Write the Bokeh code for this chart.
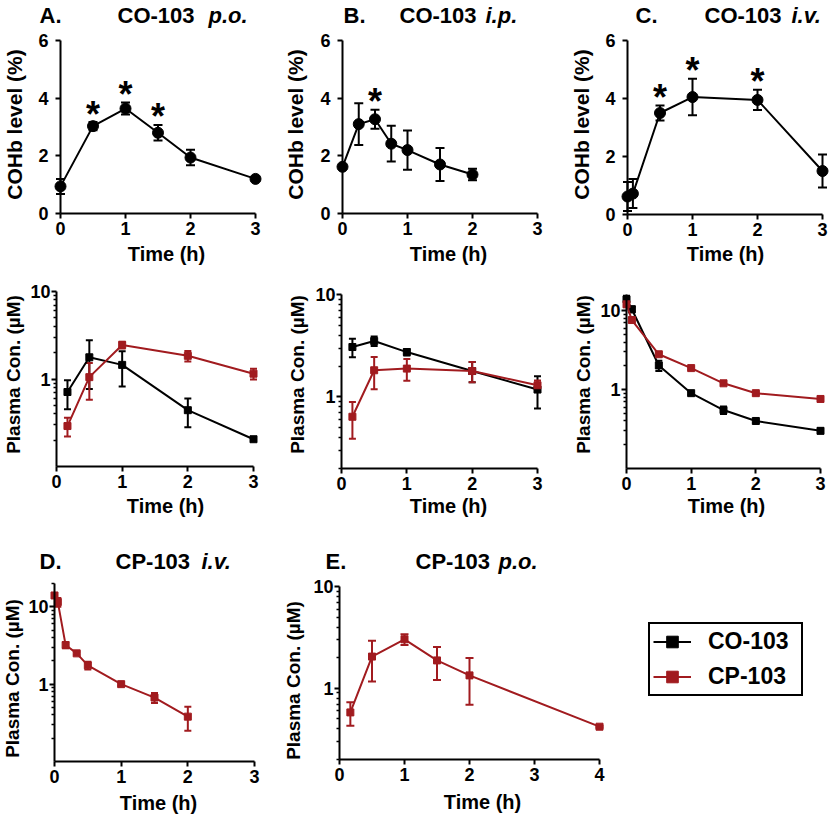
import numpy as np
from bokeh.plotting import figure
from bokeh.layouts import column, row
from bokeh.models import (Range1d, FixedTicker, CustomJSTickFormatter, Label,
                          Whisker, TeeHead, ColumnDataSource, Legend, LegendItem)
from bokeh.core.properties import value
from bokeh.embed import file_html
from bokeh.resources import INLINE

FONT = "Liberation Sans"
BLACK = "#000000"
RED = "#a11b1f"

# ---------------- data ----------------
# Row 1: COHb level (%) after CO-103
cohb_po_t = [0, 0.5, 1, 1.5, 2, 3]
cohb_po_mean = [0.94, 3.03, 3.64, 2.80, 1.94, 1.20]
cohb_po_sd = [0.26, 0.14, 0.21, 0.27, 0.27, 0.05]
cohb_po_sig = [0, 1, 1, 1, 0, 0]

cohb_ip_t = [0, 0.25, 0.5, 0.75, 1, 1.5, 2]
cohb_ip_mean = [1.62, 3.10, 3.27, 2.42, 2.20, 1.70, 1.35]
cohb_ip_sd = [0.0, 0.72, 0.33, 0.62, 0.68, 0.57, 0.20]
cohb_ip_sig = [0, 0, 1, 0, 0, 0, 0]

cohb_iv_t = [0, 0.083, 0.5, 1, 2, 3]
cohb_iv_mean = [0.62, 0.72, 3.50, 4.05, 3.95, 1.50]
cohb_iv_sd = [0.50, 0.50, 0.26, 0.63, 0.35, 0.57]
cohb_iv_sig = [0, 0, 1, 1, 1, 0]

# Row 2: plasma concentration (uM), CO-103 vs CP-103
po_t = [0.167, 0.5, 1, 2, 3]
po_co_mean = [0.71, 1.77, 1.45, 0.44, 0.205]
po_co_sd = [0.26, 1.00, 0.63, 0.16, 0.005]
po_cp_mean = [0.29, 1.05, 2.45, 1.84, 1.15]
po_cp_sd = [0.07, 0.47, 0.22, 0.25, 0.16]

ip_t = [0.167, 0.5, 1, 2, 3]
ip_co_mean = [3.07, 3.51, 2.74, 1.79, 1.18]
ip_co_sd = [0.63, 0.37, 0.20, 0.40, 0.41]
ip_cp_mean = [0.64, 1.82, 1.89, 1.79, 1.30]
ip_cp_sd = [0.25, 0.63, 0.45, 0.40, 0.15]

iv_t = [0, 0.083, 0.5, 1, 1.5, 2, 3]
iv_co_mean = [13.9, 10.4, 2.02, 0.90, 0.55, 0.40, 0.30]
iv_co_sd = [1.5, 0.9, 0.30, 0.04, 0.06, 0.02, 0.02]
iv_cp_mean = [12.0, 7.6, 2.80, 1.87, 1.20, 0.90, 0.76]
iv_cp_sd = [0.8, 0.5, 0.15, 0.08, 0.06, 0.04, 0.04]

# Row 3: CP-103 alone
cpiv_t = [0, 0.05, 0.167, 0.333, 0.5, 1, 1.5, 2]
cpiv_mean = [14.0, 11.5, 3.2, 2.5, 1.75, 1.0, 0.67, 0.38]
cpiv_sd = [1.0, 1.5, 0.3, 0.1, 0.2, 0.05, 0.10, 0.13]

cppo_t = [0.167, 0.5, 1, 1.5, 2, 4]
cppo_mean = [0.58, 2.05, 3.03, 1.88, 1.34, 0.42]
cppo_sd = [0.15, 0.88, 0.37, 0.67, 0.65, 0.01]

series_names = ["CO-103", "CP-103"]


def make_panel(box, ax0, ax1, xmax, top, bottom, ymin, ymax, log, ystand):
    """box = (fx0, fx1, fy0, fy1) in page pixels; the frame covers the whole figure."""
    fx0, fx1, fy0, fy1 = box
    ppx = (ax1 - ax0) / xmax
    x_lo = -(ax0 - fx0) / ppx
    x_hi = xmax + (fx1 - ax1) / ppx
    if log:
        l0, l1 = np.log10(ymin), np.log10(ymax)
        ppd = (bottom - top) / (l1 - l0)
        y_lo = 10 ** (l0 - (fy1 - bottom) / ppd)
        y_hi = 10 ** (l1 + (top - fy0) / ppd)
    else:
        ppy = (bottom - top) / (ymax - ymin)
        y_lo = ymin - (fy1 - bottom) / ppy
        y_hi = ymax + (top - fy0) / ppy
    p = figure(width=fx1 - fx0, height=fy1 - fy0,
               x_range=Range1d(x_lo, x_hi), y_range=Range1d(y_lo, y_hi),
               y_axis_type="log" if log else "linear",
               output_backend="svg", toolbar_location=None,
               min_border=0, outline_line_color=None)
    p.title.visible = False
    p.grid.visible = False
    xa, ya = p.xaxis[0], p.yaxis[0]
    for ax in (xa, ya):
        ax.axis_line_width = 2
        ax.axis_line_color = BLACK
        ax.major_tick_line_width = 2
        ax.major_tick_line_color = BLACK
        ax.major_tick_out = 5
        ax.major_tick_in = 0
        ax.minor_tick_line_width = 1.5
        ax.minor_tick_line_color = BLACK
        ax.minor_tick_out = 3
        ax.minor_tick_in = 0
        ax.major_label_text_font = FONT
        ax.major_label_text_font_style = "bold"
        ax.major_label_text_font_size = "18px"
        ax.major_label_text_color = BLACK
    xa.ticker = FixedTicker(ticks=list(range(xmax + 1)), minor_ticks=[])
    xa.bounds = (0, xmax)
    xa.fixed_location = ymin
    xa.major_label_standoff = 3
    ya.fixed_location = 0
    ya.bounds = (ymin, ymax)
    ya.major_label_standoff = ystand
    if log:
        minor = [m * 10.0 ** e for e in (-1, 0, 1) for m in range(2, 10)]
        minor = [v for v in minor if ymin <= v <= ymax * 1.0001]
        ya.ticker = FixedTicker(ticks=[1, 10], minor_ticks=minor)
        ya.formatter = CustomJSTickFormatter(code="return tick.toString();")
    else:
        ya.ticker = FixedTicker(ticks=[0, 2, 4, 6], minor_ticks=[])
    return p, (fx0, fy1)


def add_text(p, geo, px, py, text, size, style="bold", align="left", angle=0.0):
    gx, gy = geo
    p.add_layout(Label(x=px - gx, y=gy - py, x_units="screen", y_units="screen",
                       text=text, text_font=FONT, text_font_style=style,
                       text_font_size=f"{size}px", text_align=align,
                       text_baseline="middle", angle=angle, text_color=BLACK))


def add_series(p, t, mean, sd, color, marker, size, cap, visible=True):
    lo = [m - s for m, s in zip(mean, sd)]
    hi = [m + s for m, s in zip(mean, sd)]
    src = ColumnDataSource(dict(t=t, m=mean, lo=lo, hi=hi))
    if visible:
        p.add_layout(Whisker(source=src, base="t", lower="lo", upper="hi",
                             line_color=color, line_width=2,
                             upper_head=TeeHead(size=cap, line_color=color, line_width=2),
                             lower_head=TeeHead(size=cap, line_color=color, line_width=2)))
    rl = p.line("t", "m", source=src, line_color=color, line_width=2, visible=visible)
    rs = p.scatter("t", "m", source=src, marker=marker, size=size,
                   fill_color=color, line_color=color, visible=visible)
    return rl, rs


def add_stars(p, t, mean, sd, sig):
    sx = [a for a, s in zip(t, sig) if s]
    sy = [m + e for m, e, s in zip(mean, sd, sig) if s]
    p.text(x=sx, y=sy, text=["*"] * len(sx), text_font=value(FONT),
           text_font_style="bold", text_font_size="36px", text_align="center",
           text_baseline="alphabetic", y_offset=-8, text_color=BLACK)


def titles(p, geo, y, items):
    for txt, x, size, style in items:
        add_text(p, geo, x, y, txt, size, style=style)


YL1 = "COHb level (%)"
YL2 = "Plasma Con. (\u00b5M)"
XL = "Time (h)"
ROT = np.pi / 2

# ---------------- Row 1 ----------------
pA, gA = make_panel((0, 278, 0, 270), 60, 255, 3, 40, 213, 0, 6, False, 7)
add_series(pA, cohb_po_t, cohb_po_mean, cohb_po_sd, BLACK, "circle", 11, 9)
add_stars(pA, cohb_po_t, cohb_po_mean, cohb_po_sd, cohb_po_sig)
titles(pA, gA, 15, [("A.", 39, 22, "bold"), ("CO-103", 117, 22, "bold"), ("p.o.", 208, 22, "bold italic")])
add_text(pA, gA, 14, 124, YL1, 21, align="center", angle=ROT)
add_text(pA, gA, 166, 253, XL, 20, align="center")

pB, gB = make_panel((278, 563, 0, 270), 342, 537, 3, 40, 213, 0, 6, False, 7)
add_series(pB, cohb_ip_t, cohb_ip_mean, cohb_ip_sd, BLACK, "circle", 11, 9)
add_stars(pB, cohb_ip_t, cohb_ip_mean, cohb_ip_sd, cohb_ip_sig)
titles(pB, gB, 15, [("B.", 343, 22, "bold"), ("CO-103", 399, 22, "bold"), ("i.p.", 485, 22, "bold italic")])
add_text(pB, gB, 295, 124, YL1, 21, align="center", angle=ROT)
add_text(pB, gB, 448, 253, XL, 20, align="center")

pC, gC = make_panel((563, 830, 0, 270), 627, 822, 3, 40, 214, 0, 6, False, 7)
add_series(pC, cohb_iv_t, cohb_iv_mean, cohb_iv_sd, BLACK, "circle", 11, 9)
add_stars(pC, cohb_iv_t, cohb_iv_mean, cohb_iv_sd, cohb_iv_sig)
titles(pC, gC, 15, [("C.", 635, 22, "bold"), ("CO-103", 704, 22, "bold"), ("i.v.", 791, 22, "bold italic")])
add_text(pC, gC, 581, 124, YL1, 21, align="center", angle=ROT)
add_text(pC, gC, 725, 253, XL, 20, align="center")

# ---------------- Row 2 ----------------
pA2, gA2 = make_panel((0, 278, 270, 538), 56, 253, 3, 291, 466, 0.1, 10, True, 1)
add_series(pA2, po_t, po_co_mean, po_co_sd, BLACK, "square", 7, 7)
add_series(pA2, po_t, po_cp_mean, po_cp_sd, RED, "square", 7, 7)
add_text(pA2, gA2, 13, 374, YL2, 19, align="center", angle=ROT)
add_text(pA2, gA2, 165, 505, XL, 20, align="center")

pB2, gB2 = make_panel((278, 563, 270, 538), 341, 537, 3, 294, 468, 0.2, 10, True, 1)
add_series(pB2, ip_t, ip_co_mean, ip_co_sd, BLACK, "square", 7, 7)
add_series(pB2, ip_t, ip_cp_mean, ip_cp_sd, RED, "square", 7, 7)
add_text(pB2, gB2, 297, 374, YL2, 19, align="center", angle=ROT)
add_text(pB2, gB2, 448, 505, XL, 20, align="center")

pC2, gC2 = make_panel((563, 830, 270, 538), 626, 820, 3, 294, 468, 0.1, 16, True, 1)
add_series(pC2, iv_t, iv_co_mean, iv_co_sd, BLACK, "square", 7, 7)
add_series(pC2, iv_t, iv_cp_mean, iv_cp_sd, RED, "square", 7, 7)
add_text(pC2, gC2, 583, 374, YL2, 19, align="center", angle=ROT)
add_text(pC2, gC2, 726, 505, XL, 20, align="center")

# ---------------- Row 3 ----------------
pD, gD = make_panel((0, 278, 538, 816), 54, 254, 3, 583, 761, 0.1, 20, True, 1)
add_series(pD, cpiv_t, cpiv_mean, cpiv_sd, RED, "square", 7, 7)
titles(pD, gD, 561, [("D.", 39, 22, "bold"), ("CP-103", 115, 22, "bold"), ("i.v.", 201, 22, "bold italic")])
add_text(pD, gD, 12, 678, YL2, 19, align="center", angle=ROT)
add_text(pD, gD, 158, 802, XL, 20, align="center")

pE, gE = make_panel((278, 830, 538, 816), 339, 599, 4, 586, 759, 0.2, 10, True, 1)
rl_cp, rs_cp = add_series(pE, cppo_t, cppo_mean, cppo_sd, RED, "square", 7, 8)
titles(pE, gE, 561, [("E.", 325, 22, "bold"), ("CP-103", 415, 22, "bold"), ("p.o.", 498, 22, "bold italic")])
add_text(pE, gE, 293, 680, YL2, 19, align="center", angle=ROT)
add_text(pE, gE, 482, 801, XL, 20, align="center")

# legend: the CO-103 entry refers to the CO-103 p.o. series, added hidden to this panel
rl_co, rs_co = add_series(pE, po_t, po_co_mean, po_co_sd, BLACK, "square", 8, 7, visible=False)
leg = Legend(items=[LegendItem(label=series_names[0], renderers=[rl_co, rs_co]),
                    LegendItem(label=series_names[1], renderers=[rl_cp, rs_cp])],
             location=(648 - 278, 816 - 696), margin=0, padding=3, spacing=6,
             glyph_width=38, glyph_height=29, label_standoff=17, label_width=90,
             label_text_font=FONT, label_text_font_style="bold", label_text_font_size="23px",
             label_text_color=BLACK, border_line_color=BLACK, border_line_width=2,
             border_line_alpha=1.0, background_fill_color="white", background_fill_alpha=1.0,
             inactive_fill_alpha=0.0)
pE.add_layout(leg, "center")

layout = column(row(pA, pB, pC), row(pA2, pB2, pC2), row(pD, pE))
open("out.html", "w").write(file_html(layout, INLINE))
